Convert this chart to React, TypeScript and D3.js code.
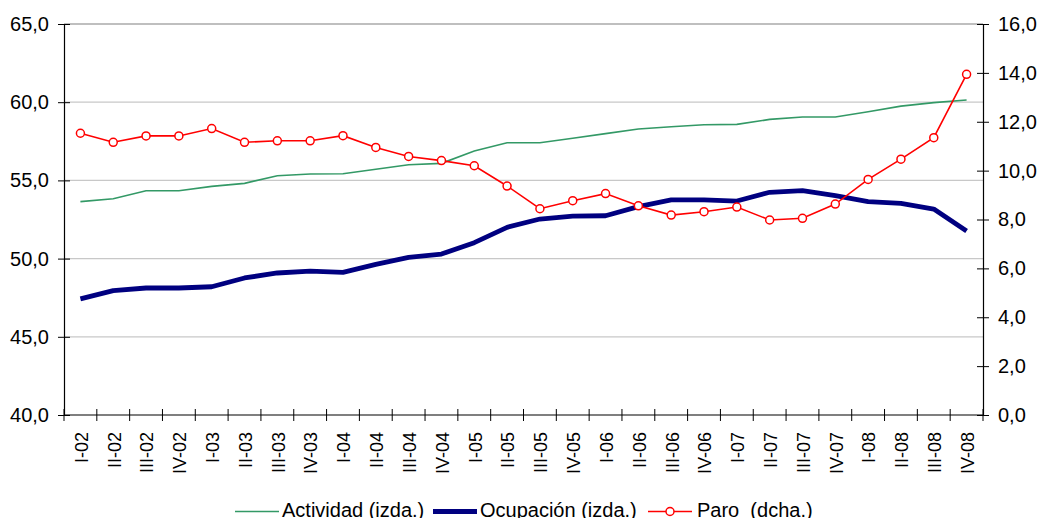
import React, { useEffect, useRef } from "react";
import * as d3 from "d3";

// trimestres
const quarters = [
  "I-02", "II-02", "III-02", "IV-02",
  "I-03", "II-03", "III-03", "IV-03",
  "I-04", "II-04", "III-04", "IV-04",
  "I-05", "II-05", "III-05", "IV-05",
  "I-06", "II-06", "III-06", "IV-06",
  "I-07", "II-07", "III-07", "IV-07",
  "I-08", "II-08", "III-08", "IV-08",
];

// tasas (izda.)
const actividad = [
  53.64, 53.83, 54.34, 54.34, 54.62, 54.81, 55.3, 55.41,
  55.43, 55.71, 56.0, 56.09, 56.88, 57.41, 57.41, 57.69,
  57.99, 58.29, 58.43, 58.56, 58.58, 58.9, 59.05, 59.05,
  59.39, 59.75, 59.97, 60.14,
];
const ocupacion = [
  47.42, 47.95, 48.12, 48.12, 48.2, 48.76, 49.08, 49.2,
  49.12, 49.63, 50.08, 50.29, 51.02, 52.0, 52.53, 52.72,
  52.74, 53.32, 53.75, 53.75, 53.68, 54.24, 54.34, 54.02,
  53.64, 53.53, 53.17, 51.76,
];
// paro (dcha.)
const paro = [
  11.53, 11.16, 11.42, 11.42, 11.72, 11.16, 11.22, 11.22,
  11.43, 10.95, 10.58, 10.41, 10.2, 9.37, 8.44, 8.77,
  9.06, 8.56, 8.18, 8.32, 8.51, 7.98, 8.05, 8.63,
  9.64, 10.47, 11.35, 13.94,
];

const leftTicks = [40, 45, 50, 55, 60, 65];
const rightTicks = [0, 2, 4, 6, 8, 10, 12, 14, 16];

const FONT = "'Liberation Sans', Arial, sans-serif";

function App() {
  const ref = useRef<SVGSVGElement>(null);

  useEffect(() => {
    drawChart();
  }, []);

  const drawChart = () => {
    const svgWidth = 1041, svgHeight = 518;
    const margin = { top: 24, right: 58, bottom: 103, left: 64 };
    const left = margin.left, right = svgWidth - margin.right;
    const top = margin.top, bottom = svgHeight - margin.bottom;

    const svg = d3.select(ref.current);
    svg.selectAll("*").remove();

    const x = d3.scaleBand().domain(quarters).range([left, right]);
    const cx = (q: string) => (x(q) as number) + x.bandwidth() / 2;
    const yL = d3.scaleLinear().domain([40, 65]).range([bottom, top]);
    const yR = d3.scaleLinear().domain([0, 16]).range([bottom, top]);
    const fmt = (v: number) => d3.format(".1f")(v).replace(".", ",");

    // grid
    svg.append("g")
      .selectAll("line")
      .data(leftTicks.slice(1))
      .enter()
      .append("line")
      .attr("x1", left)
      .attr("x2", right)
      .attr("y1", d => yL(d))
      .attr("y2", d => yL(d))
      .attr("stroke", d => (d === 65 ? "#808080" : "#c8c8c8"))
      .attr("stroke-width", 1.2);

    // left axis
    const gl = svg.append("g")
      .attr("transform", `translate(${left},0)`)
      .call(d3.axisLeft(yL).tickValues(leftTicks).tickSize(6).tickPadding(9).tickFormat(d => fmt(d as number)));
    gl.selectAll(".tick line").attr("x1", 6);

    // right axis
    const gr = svg.append("g")
      .attr("transform", `translate(${right},0)`)
      .call(d3.axisRight(yR).tickValues(rightTicks).tickSize(6).tickPadding(9).tickFormat(d => fmt(d as number)));
    gr.selectAll(".tick line").attr("x1", -6);

    [gl, gr].forEach(g => {
      g.select(".domain").attr("stroke", "#000").attr("stroke-width", 1.2);
      g.selectAll(".tick line").attr("stroke", "#000");
      g.selectAll("text")
        .attr("font-family", FONT)
        .attr("font-size", 20)
        .attr("fill", "#000");
    });

    // bottom axis (ticks between categories)
    const gb = svg.append("g");
    gb.append("line")
      .attr("x1", left).attr("x2", right)
      .attr("y1", bottom).attr("y2", bottom)
      .attr("stroke", "#000").attr("stroke-width", 1.2);
    gb.selectAll(".tk")
      .data(d3.range(quarters.length + 1))
      .enter()
      .append("line")
      .attr("x1", i => left + i * x.step())
      .attr("x2", i => left + i * x.step())
      .attr("y1", bottom - 6)
      .attr("y2", bottom + 6)
      .attr("stroke", "#000");
    gb.selectAll("text")
      .data(quarters)
      .enter()
      .append("text")
      .attr("transform", d => `translate(${cx(d) + 1},${bottom + 17}) rotate(-90)`)
      .attr("dy", "0.35em")
      .attr("text-anchor", "end")
      .attr("font-family", FONT)
      .attr("font-size", 18)
      .text(d => d);

    // series
    const lineL = d3.line<number>()
      .x((d, i) => cx(quarters[i]))
      .y(d => yL(d));
    const lineR = d3.line<number>()
      .x((d, i) => cx(quarters[i]))
      .y(d => yR(d));

    svg.append("path")
      .datum(actividad)
      .attr("d", lineL)
      .attr("fill", "none")
      .attr("stroke", "#339966")
      .attr("stroke-width", 1.6);

    svg.append("path")
      .datum(ocupacion)
      .attr("d", lineL)
      .attr("fill", "none")
      .attr("stroke", "#000080")
      .attr("stroke-width", 4.8)
      .attr("stroke-linejoin", "round");

    svg.append("path")
      .datum(paro)
      .attr("d", lineR)
      .attr("fill", "none")
      .attr("stroke", "#ff0000")
      .attr("stroke-width", 1.6);

    svg.append("g")
      .selectAll("circle")
      .data(paro)
      .enter()
      .append("circle")
      .attr("cx", (d, i) => cx(quarters[i]))
      .attr("cy", d => yR(d))
      .attr("r", 4)
      .attr("fill", "#fff")
      .attr("stroke", "#ff0000")
      .attr("stroke-width", 1.5);

    // legend
    const legY = 511.5;
    const legend = [
      { label: "Actividad (izda.)", color: "#339966", w: 1.6, x0: 235, dot: false },
      { label: "Ocupación (izda.)", color: "#000080", w: 4.8, x0: 433, dot: false },
      { label: "Paro  (dcha.)", color: "#ff0000", w: 1.6, x0: 648, dot: true },
    ];
    const lg = svg.append("g").selectAll("g").data(legend).enter().append("g");
    lg.append("line")
      .attr("x1", d => d.x0)
      .attr("x2", d => d.x0 + 44)
      .attr("y1", legY)
      .attr("y2", legY)
      .attr("stroke", d => d.color)
      .attr("stroke-width", d => d.w);
    lg.filter(d => d.dot)
      .append("circle")
      .attr("cx", d => d.x0 + 22)
      .attr("cy", legY)
      .attr("r", 4)
      .attr("fill", "#fff")
      .attr("stroke", d => d.color)
      .attr("stroke-width", 1.5);
    lg.append("text")
      .attr("x", d => d.x0 + (d.dot ? 49 : 47))
      .attr("y", 517)
      .attr("font-family", FONT)
      .attr("font-size", 20)
      .style("white-space", "pre")
      .text(d => d.label);
  };

  return (
    <svg
      ref={ref}
      width={1041}
      height={518}
      style={{ position: "absolute", left: 0, top: 0, background: "#fff" }}
    />
  );
}

export default App;
